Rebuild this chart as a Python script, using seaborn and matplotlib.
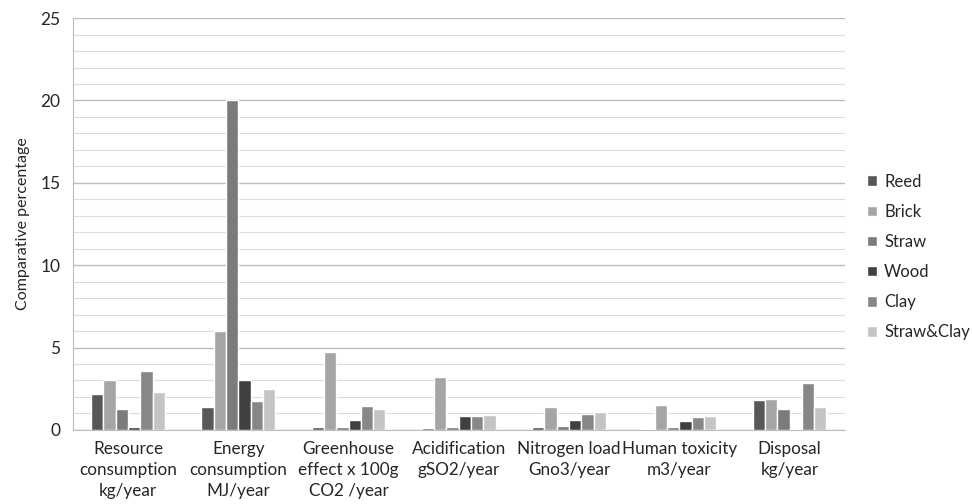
import pandas as pd
import seaborn as sns
import matplotlib.pyplot as plt
from matplotlib.ticker import MultipleLocator

# Categories (x axis) and materials (hue)
categories = [
    "Resource\nconsumption\nkg/year",
    "Energy\nconsumption\nMJ/year",
    "Greenhouse\neffect x 100g\nCO2 /year",
    "Acidification\ngSO2/year",
    "Nitrogen load\nGno3/year",
    "Human toxicity\nm3/year",
    "Disposal\nkg/year",
]
materials = ["Reed", "Brick", "Straw", "Wood", "Clay", "Straw&Clay"]

reed = [2.2, 1.4, 0.16, 0.12, 0.16, 0.08, 1.8]
brick = [3.0, 6.0, 4.7, 3.2, 1.4, 1.5, 1.87]
straw = [1.3, 20.0, 0.16, 0.16, 0.22, 0.16, 1.3]
wood = [0.16, 3.0, 0.6, 0.86, 0.6, 0.55, 0.08]
clay = [3.6, 1.75, 1.43, 0.86, 0.97, 0.8, 2.85]
straw_clay = [2.28, 2.48, 1.27, 0.9, 1.1, 0.84, 1.42]

colors = ["#575757", "#a5a5a5", "#7b7b7b", "#404040", "#878787", "#c4c4c4"]

series = [reed, brick, straw, wood, clay, straw_clay]
rows = []
for mat, vals in zip(materials, series):
    for cat, v in zip(categories, vals):
        rows.append({"category": cat, "material": mat, "value": v})
df = pd.DataFrame(rows)

sns.set_style("white")
plt.rcParams["font.family"] = ["Lato", "DejaVu Sans"]

fig = plt.figure(figsize=(9.72, 5.04), dpi=100)
ax = fig.add_axes([0.075, 0.147, 0.794, 0.817])

sns.barplot(
    data=df, x="category", y="value", hue="material",
    hue_order=materials, palette=colors, width=0.67,
    saturation=1, ax=ax, zorder=3,
)

ax.set_ylim(0, 25)
ax.yaxis.set_major_locator(MultipleLocator(5))
ax.yaxis.set_minor_locator(MultipleLocator(1))
ax.grid(axis="y", which="major", color="#bdbdbd", linewidth=1.0, zorder=0)
ax.grid(axis="y", which="minor", color="#dcdcdc", linewidth=0.8, zorder=0)
ax.set_axisbelow(True)

for side in ["top", "right"]:
    ax.spines[side].set_visible(False)
ax.spines["left"].set_color("#bdbdbd")
ax.spines["bottom"].set_color("#bdbdbd")

ax.tick_params(axis="y", which="major", length=5, color="#bdbdbd", labelsize=12.5, pad=4)
ax.tick_params(axis="y", which="minor", length=0)
ax.tick_params(axis="x", length=0, labelsize=12.3, pad=8)
for lbl in ax.get_xticklabels():
    lbl.set_linespacing(1.38)

ax.set_xlabel("")
ax.set_ylabel("Comparative percentage", fontsize=11.5)
ax.yaxis.set_label_coords(-0.055, 0.5)

leg = ax.legend(
    loc="center left", bbox_to_anchor=(1.01, 0.42), frameon=False,
    fontsize=12, handlelength=0.6, handleheight=0.6, labelspacing=0.85,
    handletextpad=0.4,
)

fig.savefig("out.png", dpi=100)
